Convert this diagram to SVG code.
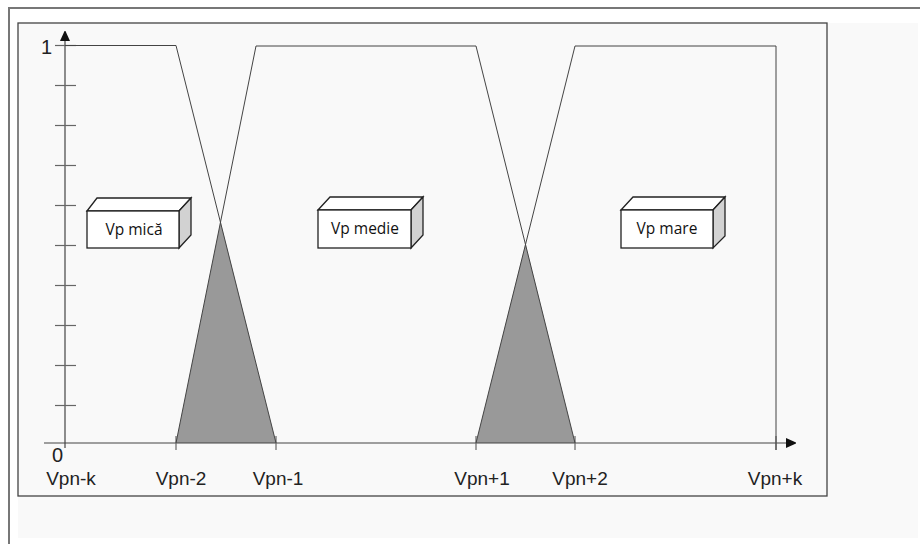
<svg xmlns="http://www.w3.org/2000/svg" width="920" height="544" viewBox="0 0 920 544">
<defs>
<style>
.ax{stroke:#444;stroke-width:1.2;fill:none}
.tk{stroke:#666;stroke-width:1.2}
.mf{stroke:#444;stroke-width:1;fill:none}
.sh{fill:#999;stroke:none}
.lbl{font-family:"Liberation Sans",Arial,sans-serif;font-size:19px;fill:#222}
.bx{font-family:"Open Sans","Liberation Sans",sans-serif;font-size:15.5px;fill:#111}
.front{fill:#fff;stroke:#222;stroke-width:1.3}
.top{fill:#fff;stroke:#222;stroke-width:1.3}
.side{fill:#d2d2d2;stroke:#222;stroke-width:1.3}
</style>
<marker id="arr" markerWidth="10" markerHeight="10" refX="9" refY="5" orient="auto" markerUnits="userSpaceOnUse">
<path d="M0,0 L11,5 L0,10 Z" fill="#111"/>
</marker>
</defs>
<rect width="920" height="544" fill="#fff"/>
<rect x="18" y="23" width="900" height="515" fill="#f9f9f9"/>
<path d="M920,8 H9 V544" fill="none" stroke="#777" stroke-width="2"/>
<rect x="18" y="23" width="809" height="473" fill="none" stroke="#444" stroke-width="1.3"/>

<g id="shading">
<polygon class="sh" points="176,443 220.5,222 276,443"/>
<polygon class="sh" points="476,443 525.5,244 575,443"/>
</g>

<g id="axes">
<line class="ax" x1="65" y1="448" x2="65" y2="32" marker-end="url(#arr)"/>
<line class="ax" x1="44" y1="443" x2="795" y2="443" marker-end="url(#arr)"/>
<g class="tk">
<line x1="55" y1="45.5" x2="76" y2="45.5"/>
<line x1="55" y1="85.5" x2="76" y2="85.5"/>
<line x1="55" y1="125.5" x2="76" y2="125.5"/>
<line x1="55" y1="165.5" x2="76" y2="165.5"/>
<line x1="55" y1="205.5" x2="76" y2="205.5"/>
<line x1="55" y1="245.5" x2="76" y2="245.5"/>
<line x1="55" y1="285.5" x2="76" y2="285.5"/>
<line x1="55" y1="325.5" x2="76" y2="325.5"/>
<line x1="55" y1="365.5" x2="76" y2="365.5"/>
<line x1="55" y1="405.5" x2="76" y2="405.5"/>
<line x1="176" y1="436" x2="176" y2="450"/>
<line x1="276" y1="436" x2="276" y2="450"/>
<line x1="476" y1="436" x2="476" y2="450"/>
<line x1="575" y1="436" x2="575" y2="450"/>
<line x1="776" y1="436" x2="776" y2="450"/>
</g>
<text class="lbl" x="41" y="54" style="font-size:20px">1</text>
<text class="lbl" x="52" y="462" style="font-size:20px">0</text>
<text class="lbl" x="71" y="485" text-anchor="middle">Vpn-k</text>
<text class="lbl" x="181" y="485" text-anchor="middle">Vpn-2</text>
<text class="lbl" x="278" y="485" text-anchor="middle">Vpn-1</text>
<text class="lbl" x="482" y="485" text-anchor="middle">Vpn+1</text>
<text class="lbl" x="580" y="485" text-anchor="middle">Vpn+2</text>
<text class="lbl" x="775" y="485" text-anchor="middle">Vpn+k</text>
</g>

<g id="connectors">
<polyline class="mf" points="65,45.5 176,45.5 276,443"/>
<polyline class="mf" points="176,443 256,46 476,46 575,443"/>
<polyline class="mf" points="476,443 575,46 776,46 776,450"/>
</g>

<g id="vp-mica">
<polygon class="top" points="87,211 97,198 191,198 179,211"/>
<polygon class="side" points="179,211 191,198 191,235 179,248"/>
<rect class="front" x="87" y="211" width="92" height="37"/>
<text class="bx" x="134" y="235" text-anchor="middle">Vp mică</text>
</g>

<g id="vp-medie">
<polygon class="top" points="318,210 330,197 423,197 411,210"/>
<polygon class="side" points="411,210 423,197 423,235 411,248"/>
<rect class="front" x="318" y="210" width="93" height="38"/>
<text class="bx" x="365" y="234" text-anchor="middle">Vp medie</text>
</g>

<g id="vp-mare">
<polygon class="top" points="621,210 633,197 725,197 713,210"/>
<polygon class="side" points="713,210 725,197 725,236 713,248"/>
<rect class="front" x="621" y="210" width="92" height="38"/>
<text class="bx" x="667" y="234" text-anchor="middle">Vp mare</text>
</g>
</svg>
